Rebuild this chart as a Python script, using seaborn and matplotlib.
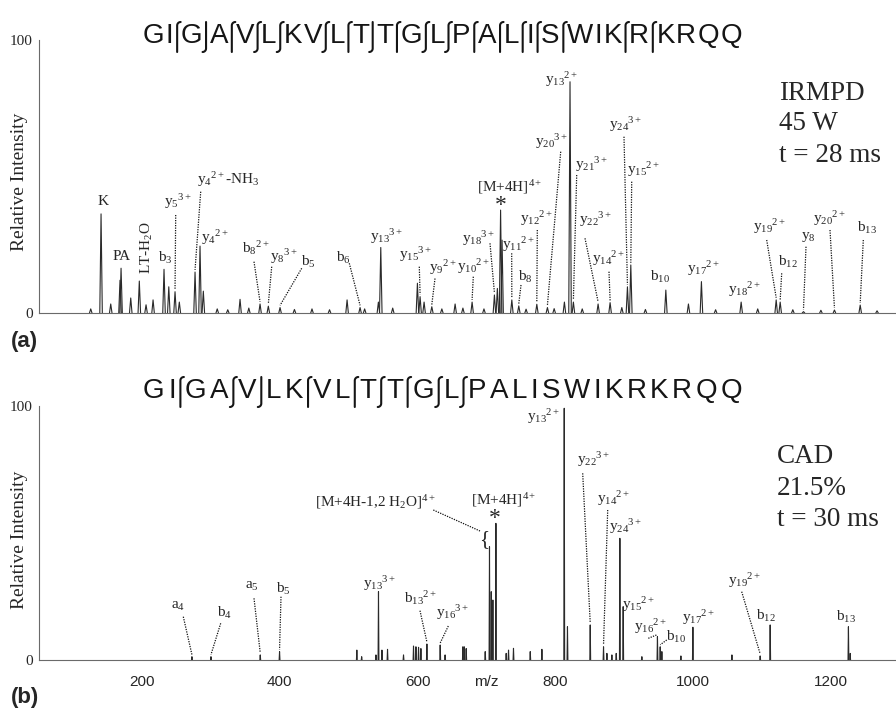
import numpy as np
import pandas as pd
import matplotlib
matplotlib.use("Agg")
import matplotlib.pyplot as plt
import seaborn as sns
from matplotlib.lines import Line2D

# ---------------- data ----------------
sequence = "GIGAVLKVLTTGLPALISWIKRKRQQ"

irmpd_mz = [129.8, 144.5, 158.3, 171.5, 173.0, 186.8, 199.0, 208.6, 218.6, 234.2,
            241.0, 249.9, 256.0, 278.4, 285.5, 290.2, 310.0, 325.0, 342.5, 355.0,
            371.0, 382.8, 399.5, 420.0, 445.0, 470.0, 495.0, 513.5, 520.0, 539.6,
            543.0, 560.0, 595.2, 599.0, 604.7, 615.7, 630.0, 648.9, 660.0, 673.1,
            690.0, 704.9, 709.1, 713.7, 715.8, 729.7, 739.6, 750.0, 765.3, 780.4,
            790.0, 804.6, 812.6, 817.4, 830.0, 852.6, 869.7, 886.4, 894.4, 899.2,
            920.0, 949.1, 981.3, 999.8, 1020.0, 1056.4, 1080.0, 1106.3, 1112.0, 1130.0,
            1145.2, 1170.0, 1189.3, 1226.0, 1250.0]
irmpd_int = [1.5, 36.3, 3.3, 12.0, 16.4, 5.5, 11.7, 3.0, 4.8, 16.0,
             9.6, 7.8, 4.0, 15.0, 24.5, 8.0, 1.5, 1.2, 5.0, 1.8,
             3.3, 2.5, 2.0, 1.3, 1.5, 1.2, 4.8, 2.0, 1.5, 4.0,
             24.0, 1.8, 10.9, 6.0, 4.0, 2.3, 1.5, 3.3, 1.8, 4.0,
             1.5, 6.6, 9.0, 37.7, 26.7, 4.8, 2.6, 1.4, 3.2, 2.0,
             1.6, 4.0, 84.7, 4.0, 1.5, 3.3, 3.8, 2.0, 9.6, 17.6,
             1.3, 8.4, 3.3, 11.5, 1.2, 4.0, 1.5, 4.8, 4.0, 1.2,
             0.5, 1.0, 1.1, 2.9, 0.8]

cad_mz = [272.8, 300.4, 371.9, 399.9, 512.0, 519.0, 539.7, 543.4, 548.4, 556.5,
          579.7, 594.2, 597.7, 601.5, 604.9, 613.6, 632.9, 640.0, 665.8, 667.7,
          670.6, 698.2, 704.4, 706.9, 709.3, 713.7, 728.6, 732.0, 739.2, 763.5,
          780.4, 812.8, 817.5, 850.5, 869.8, 874.7, 881.9, 888.2, 893.5, 898.3,
          925.4, 948.0, 952.0, 954.4, 982.0, 999.4, 1056.0, 1097.0, 1111.5, 1225.0,
          1227.5]
cad_int = [1.3, 1.3, 2.0, 3.3, 3.9, 1.3, 2.0, 26.9, 3.9, 4.2,
           2.0, 5.5, 5.2, 5.0, 4.5, 6.3, 5.9, 2.0, 5.2, 5.2,
           4.5, 3.3, 44.6, 26.9, 23.6, 53.8, 2.6, 3.9, 4.6, 3.3,
           4.2, 99.1, 13.1, 13.8, 5.2, 2.6, 2.0, 2.6, 47.9, 21.0,
           1.3, 9.2, 5.2, 3.3, 1.6, 12.9, 2.0, 1.6, 13.8, 13.1,
           2.6]

# cleavage marks: gap index (after residue i) -> observed ion type
irmpd_marks = {1: "y", 2: "b", 3: "y", 4: "by", 5: "by", 7: "by", 8: "y", 9: "b",
               10: "y", 11: "by", 12: "by", 13: "y", 14: "y", 15: "y", 16: "y",
               17: "y", 20: "y", 21: "y"}
cad_marks = {1: "y", 3: "by", 4: "b", 6: "y", 8: "y", 9: "by", 10: "y", 11: "by", 12: "by"}

x_major = [200, 400, 600, 800, 1000, 1200]

# ---------------- style ----------------
sns.set_style("white")
plt.rcParams["font.family"] = ["Liberation Serif", "DejaVu Serif"]
plt.rcParams["mathtext.fontset"] = "custom"
plt.rcParams["mathtext.rm"] = "Liberation Serif"
plt.rcParams["mathtext.it"] = "Liberation Serif:italic"
plt.rcParams["mathtext.bf"] = "Liberation Serif:bold"

W, H = 896, 712
fig = plt.figure(figsize=(W / 100, H / 100), dpi=100)
fig.patch.set_facecolor("white")


def fx(px):
    return px / W


def fy(py):
    return 1 - py / H


ax1 = fig.add_axes([fx(39), fy(313), 1 - fx(39), 273 / H])
ax2 = fig.add_axes([fx(39), fy(660), 1 - fx(39), 254 / H])


def stick_frame(mz, inten, hw):
    xs, ys, us = [], [], []
    for i, (m, h) in enumerate(zip(mz, inten)):
        xs += [m - hw, m, m + hw]
        ys += [0, h, 0]
        us += [i, i, i]
    return pd.DataFrame({"mz": xs, "intensity": ys, "peak": us})


sns.lineplot(data=stick_frame(irmpd_mz, irmpd_int, 1.8), x="mz", y="intensity",
             units="peak", estimator=None, sort=False, color="#2a2a2a", lw=0.8,
             ax=ax1, legend=False)
sns.lineplot(data=stick_frame(cad_mz, cad_int, 0.6), x="mz", y="intensity",
             units="peak", estimator=None, sort=False, color="#2a2a2a", lw=0.8,
             ax=ax2, legend=False)

ax1.set_xlim(56.1, 1277)
ax2.set_xlim(51.0, 1294)
for ax in (ax1, ax2):
    ax.set_ylim(0, 100)
    ax.set_xlabel("")
    ax.set_ylabel("")
    ax.patch.set_alpha(0)
    for s in ("top", "right"):
        ax.spines[s].set_visible(False)
    for s in ("left", "bottom"):
        ax.spines[s].set_color("#6a6a6a")
        ax.spines[s].set_linewidth(0.8)
    ax.set_yticks([0, 100])
    ax.set_yticklabels(["0", "100"], fontsize=11)
    ax.tick_params(axis="y", which="both", direction="out", color="#6a6a6a",
                   width=0.7, pad=1.5)
    ax.tick_params(axis="y", which="major", length=3)
    ax.tick_params(axis="y", which="minor", length=2.5)

ax1.set_yticks(np.arange(12.5, 100, 12.5), minor=True)
ax2.set_yticks(np.arange(13.33, 95, 13.33), minor=True)
ax1.tick_params(axis="x", which="both", bottom=False, labelbottom=False)
ax2.set_xticks(x_major)
ax2.set_xticks(np.arange(60, 1300, 20), minor=True)
ax2.set_xticklabels([str(v) for v in x_major], fontsize=11, fontfamily="Liberation Sans")
ax2.tick_params(axis="x", which="both", direction="inout", color="#6a6a6a", width=0.7)
ax2.tick_params(axis="x", which="major", length=4, pad=9)
ax2.tick_params(axis="x", which="minor", length=2.5)

fig.text(fx(486.7), fy(681.7), "m/z", fontsize=11, family="Liberation Sans",
         ha="center", va="center")
fig.text(fx(19), fy(181.7), "Relative Intensity", rotation=90, fontsize=14,
         ha="center", va="center")
fig.text(fx(19), fy(540), "Relative Intensity", rotation=90, fontsize=14,
         ha="center", va="center")
fig.text(fx(11), fy(341), "(a)", fontsize=16, fontweight="bold",
         family="Liberation Sans", ha="left", va="center")
fig.text(fx(11), fy(697), "(b)", fontsize=16, fontweight="bold",
         family="Liberation Sans", ha="left", va="center")

for i, line in enumerate(["IRMPD", "45 W", "t = 28 ms"]):
    fig.text(fx(779), fy([100, 130.5, 161.7][i]), line, fontsize=19.5,
             ha="left", va="baseline")
for i, line in enumerate(["CAD", "21.5%", "t = 30 ms"]):
    fig.text(fx(777), fy([463.3, 495, 525.7][i]), line, fontsize=19.5,
             ha="left", va="baseline")


# ---------------- annotations ----------------
def ion(b, sub="", sup="", tail=""):
    s = b
    if sub:
        s += "_{%s}" % sub
    if sup:
        s += "{}^{%s}" % sup
    return r"$\mathrm{%s}$" % s + tail


top_labels = [
    ("K", 102.7, 201.7, None, None, None),
    ("PA", 121.7, 256.7, None, None, None),
    (ion("b", "3"), 165.7, 258, None, None, None),
    (ion("y", "5", "3+"), 178, 201.7, 175.7, 215, 249.9),
    (ion("y", "4", "2+", r"-N$\mathrm{H_3}$"), 228, 180, 200.7, 191.7, 278.4),
    (ion("y", "4", "2+"), 215, 237.3, None, None, None),
    (ion("b", "8", "2+"), 256, 248.3, 254, 261.7, 371.0),
    (ion("y", "8", "3+"), 284, 256.7, 271.7, 266.7, 382.8),
    (ion("b", "5"), 308.3, 261.7, 301.7, 268.3, 399.5),
    (ion("b", "6"), 343.3, 258.3, 349.3, 263.3, 513.5),
    (ion("y", "13", "3+"), 387, 236.7, None, None, None),
    (ion("y", "15", "3+"), 416, 254.5, 419.3, 266.7, 599.0),
    (ion("y", "9", "2+"), 443, 268, 435, 278.5, 615.7),
    (ion("y", "10", "2+"), 474, 266.7, 473.3, 276.7, 673.1),
    (ion("y", "18", "3+"), 479, 238.3, 490, 243.3, 704.9),
    (ion("y", "11", "2+"), 519, 245, 511.7, 253.3, 729.7),
    (ion("b", "8"), 525, 276.7, 521, 285, 739.6),
    (ion("y", "12", "2+"), 537, 218.3, 537.3, 230, 765.3),
    (ion("y", "20", "3+"), 552, 141.7, 560.7, 151.7, 780.4),
    (ion("y", "13", "2+"), 562, 80, None, None, None),
    (ion("y", "21", "3+"), 592, 165, 576.7, 175, 817.4),
    (ion("y", "22", "3+"), 595.5, 220, 585, 238.3, 852.6),
    (ion("y", "14", "2+"), 609, 258.3, 609, 271.7, 869.7),
    (ion("y", "24", "3+"), 625.5, 125, 624, 136.7, 894.4),
    (ion("y", "15", "2+"), 644, 170, 631.7, 181.7, 899.2),
    (ion("b", "10"), 660, 276.7, None, None, None),
    (ion("y", "17", "2+"), 703.3, 268.3, None, None, None),
    (ion("y", "18", "2+"), 745, 290, None, None, None),
    (ion("y", "19", "2+"), 770, 226.7, 766.7, 240, 1106.3),
    (ion("b", "12"), 788.3, 261.7, 781.7, 273.3, 1112.0),
    (ion("y", "8"), 808.3, 236.7, 806, 246.7, 1145.2),
    (ion("y", "20", "2+"), 830, 218.3, 830, 230, 1189.3),
    (ion("b", "13"), 867.3, 228.3, 863.3, 240, 1226.0),
]

bottom_labels = [
    (ion("a", "4"), 178.3, 606.7, 183.3, 616.7, 272.8),
    (ion("b", "4"), 225, 613.3, 220.7, 623.3, 300.4),
    (ion("a", "5"), 251.7, 586, 254, 598.3, 371.9),
    (ion("b", "5"), 283.3, 589.3, 281, 596.7, 399.9),
    (ion("y", "13", "3+"), 380, 583.3, None, None, None),
    (ion("b", "13", "2+"), 421, 598.3, 420, 610.7, 613.6),
    (ion("y", "16", "3+"), 453, 613, 448.3, 626, 632.9),
    (ion("y", "13", "2+"), 543.3, 416.7, None, None, None),
    (ion("y", "22", "3+"), 593.3, 460, 582.7, 473.3, 850.5),
    (ion("y", "14", "2+"), 613.3, 498.3, 607.7, 510, 869.8),
    (ion("y", "24", "3+"), 626, 526.7, None, None, None),
    (ion("y", "15", "2+"), 638.3, 605, None, None, None),
    (ion("y", "16", "2+"), 650.8, 626.7, 648.3, 638.3, 948.0),
    (ion("b", "10"), 676, 637, 666.7, 640, 952.0),
    (ion("y", "17", "2+"), 698.3, 618, None, None, None),
    (ion("y", "19", "2+"), 745, 581, 741.7, 591.7, 1097.0),
    (ion("b", "12"), 766, 616, None, None, None),
    (ion("b", "13"), 846, 617, None, None, None),
]


def annotate(ax, labels, mz, inten):
    inv = ax.transData.inverted()
    mz_arr = np.asarray(mz)
    for text, tx, ty, sx, sy, pk in labels:
        fig.text(fx(tx), fy(ty), text, fontsize=11, ha="center", va="center")
        if sx is None:
            continue
        j = int(np.argmin(np.abs(mz_arr - pk)))
        x0, y0 = inv.transform((sx, H - sy))
        ax.plot([x0, mz[j]], [y0, inten[j] + 0.8], ls=(0, (1, 1)), lw=0.9,
                color="#111", clip_on=False)


annotate(ax1, top_labels, irmpd_mz, irmpd_int)
annotate(ax2, bottom_labels, cad_mz, cad_int)

fig.text(fx(146.7), fy(248), r"LT-$\mathrm{H_2}$O", fontsize=11, rotation=90,
         ha="center", va="center")
fig.text(fx(510), fy(186.7), "[M+4H]$^{4+}$", fontsize=11, ha="center", va="center")
fig.text(fx(500.3), fy(205), "*", fontsize=17, ha="center", va="center")
fig.text(fx(375.5), fy(501.7), r"[M+4H-1,2 H$_2$O]$^{4+}$", fontsize=11,
         ha="center", va="center")
fig.text(fx(503.3), fy(500), "[M+4H]$^{4+}$", fontsize=11, ha="center", va="center")
fig.text(fx(495), fy(518.5), "*", fontsize=17, ha="center", va="center")
fig.text(fx(484), fy(540), "{", fontsize=15, ha="center", va="center")
inv2 = ax2.transData.inverted()
p0 = inv2.transform((433.3, H - 510))
p1 = inv2.transform((480, H - 531))
ax2.plot([p0[0], p1[0]], [p0[1], p1[1]], ls=(0, (1, 1)), lw=0.9, color="#111",
         clip_on=False)


# ---------------- sequences ----------------
def draw_sequence(seq, marks, x_left, x_right, y_base, fontsize=20, mark_extra=6):
    renderer = fig.canvas.get_renderer()
    widths = []
    for ch in seq:
        t = fig.text(0, 0, ch, fontsize=fontsize, family="Liberation Sans")
        widths.append(t.get_window_extent(renderer).width)
        t.remove()
    n_gaps = len(seq) - 1
    gap = (x_right - x_left - sum(widths) - len(marks) * mark_extra) / n_gaps
    x = x_left
    for i, ch in enumerate(seq):
        fig.text(fx(x), fy(y_base), ch, fontsize=fontsize, family="Liberation Sans",
                 ha="left", va="baseline", color="#151515")
        x_end = x + widths[i]
        if i < n_gaps:
            g = gap + (mark_extra if i in marks else 0)
            if i in marks:
                xm = x_end + g / 2
                ytop, ybot = y_base - 21, y_base + 9
                kind = marks[i]
                r = 3.5
                xs, ys = [], []
                if "y" in kind:
                    t = np.linspace(np.pi / 2, np.pi, 8)
                    xs += list(xm + r + r * np.cos(t))
                    ys += list(ytop + r - r * np.sin(t))
                else:
                    xs.append(xm)
                    ys.append(ytop)
                if "b" in kind:
                    t = np.linspace(0, -np.pi / 2, 8)
                    xs += list(xm - r + r * np.cos(t))
                    ys += list(ybot - r - r * np.sin(t))
                else:
                    xs.append(xm)
                    ys.append(ybot)
                fig.add_artist(Line2D([fx(v) for v in xs], [fy(v) for v in ys],
                                      transform=fig.transFigure, lw=1.5,
                                      color="#151515", solid_capstyle="round"))
            x = x_end + g


draw_sequence(sequence, irmpd_marks, 143, 742, 43)
draw_sequence(sequence, cad_marks, 143, 742, 398)

fig.savefig("out.png", dpi=100, facecolor="white")
